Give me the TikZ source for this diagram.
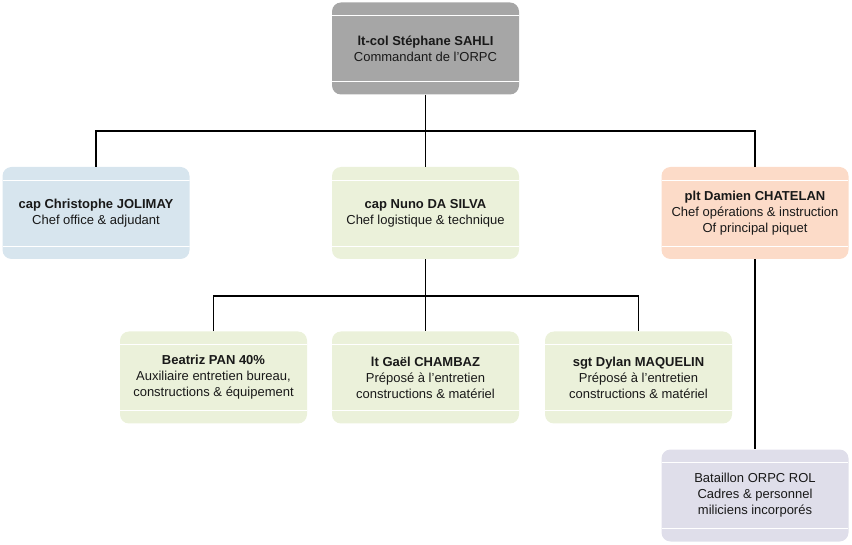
\documentclass[tikz,border=0pt]{standalone}
\usepackage{fontspec}
\setmainfont{Liberation Sans}
\definecolor{cgray}{HTML}{A6A6A6}
\definecolor{cblue}{HTML}{D7E5EE}
\definecolor{cgreen}{HTML}{EBF1DA}
\definecolor{cpeach}{HTML}{FCDBC8}
\definecolor{clav}{HTML}{DFDEEA}
\begin{document}
\begin{tikzpicture}[x=1pt,y=-1pt,
  box/.style={rectangle, rounded corners=9pt, minimum width=187pt, minimum height=92pt,
    inner sep=0pt, align=center, font=\fontsize{13pt}{16pt}\selectfont, text=black!90,
    path picture={
      \draw[white, line width=0.9pt]
        ([yshift=-13pt]path picture bounding box.north west) -- ([yshift=-13pt]path picture bounding box.north east)
        ([yshift=13pt]path picture bounding box.south west) -- ([yshift=13pt]path picture bounding box.south east);
    }},
  link/.style={draw=black, line width=1.5pt}]
\useasboundingbox (0,0) rectangle (852,545);

\node[box, fill=cgray] (top) at (425.5,48.5) {\textbf{lt-col Stéphane SAHLI}\\Commandant de l'ORPC};

\node[box, fill=cblue] (left) at (96,213) {\textbf{cap Christophe JOLIMAY}\\Chef office \& adjudant};
\node[box, fill=cgreen] (mid) at (425.5,213) {\textbf{cap Nuno DA SILVA}\\Chef logistique \& technique};
\node[box, fill=cpeach] (right) at (755,213) {\textbf{plt Damien CHATELAN}\\Chef opérations \& instruction\\Of principal piquet};

\node[box, fill=cgreen] (b1) at (213.5,377.5) {\textbf{Beatriz PAN 40\%}\\Auxiliaire entretien bureau,\\constructions \& équipement};
\node[box, fill=cgreen] (b2) at (425.5,377.5) {\textbf{lt Gaël CHAMBAZ}\\Préposé à l'entretien\\constructions \& matériel};
\node[box, fill=cgreen] (b3) at (638.5,377.5) {\textbf{sgt Dylan MAQUELIN}\\Préposé à l'entretien\\constructions \& matériel};

\node[box, fill=clav] (br) at (755,495.5) {Bataillon ORPC ROL\\Cadres \& personnel\\miliciens incorporés};

\coordinate (j1) at (425.5,131);
\coordinate (j2) at (425.5,296);

\draw[link] (top.south) -- (mid.north);
\draw[link] (left.north) |- (j1) -| (right.north);
\draw[link] (mid.south) -- (b2.north);
\draw[link] (b1.north) |- (j2) -| (b3.north);
\draw[link] (right.south) -- (br.north);
\end{tikzpicture}
\end{document}
